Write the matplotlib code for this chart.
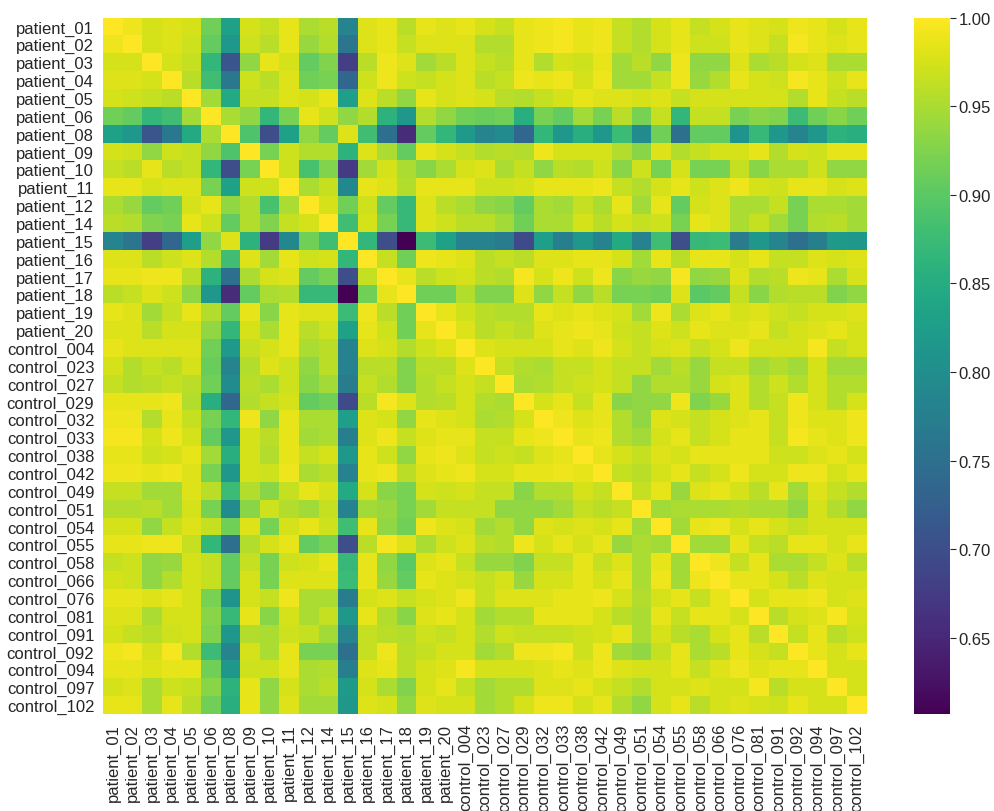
import numpy as np
import matplotlib
matplotlib.use("Agg")
import matplotlib.pyplot as plt

plt.rcParams['font.family'] = ['Liberation Sans', 'DejaVu Sans']

labels = ["patient_01", "patient_02", "patient_03", "patient_04", "patient_05",
          "patient_06", "patient_08", "patient_09", "patient_10", "patient_11",
          "patient_12", "patient_14", "patient_15", "patient_16", "patient_17",
          "patient_18", "patient_19", "patient_20",
          "control_004", "control_023", "control_027", "control_029", "control_032",
          "control_033", "control_038", "control_042", "control_049", "control_051",
          "control_054", "control_055", "control_058", "control_066", "control_076",
          "control_081", "control_091", "control_092", "control_094", "control_097",
          "control_102"]

# lower triangle of the correlation matrix (row i, columns 0..i-1)
L = [
    [],
    [0.99],
    [0.975, 0.975],
    [0.98, 0.98, 0.975],
    [0.975, 0.97, 0.965, 0.96],
    [0.915, 0.905, 0.865, 0.88, 0.945],
    [0.83, 0.815, 0.71, 0.765, 0.845, 0.95],
    [0.975, 0.97, 0.935, 0.97, 0.965, 0.935, 0.89],
    [0.965, 0.96, 0.985, 0.96, 0.965, 0.865, 0.70, 0.92],
    [0.985, 0.985, 0.975, 0.98, 0.98, 0.92, 0.83, 0.97, 0.97],
    [0.95, 0.94, 0.905, 0.915, 0.975, 0.985, 0.935, 0.955, 0.885, 0.95],
    [0.96, 0.955, 0.925, 0.92, 0.985, 0.97, 0.905, 0.955, 0.925, 0.965, 0.975],
    [0.785, 0.76, 0.68, 0.735, 0.825, 0.935, 0.98, 0.86, 0.675, 0.79, 0.915, 0.88],
    [0.98, 0.98, 0.96, 0.97, 0.98, 0.955, 0.88, 0.98, 0.945, 0.985, 0.97, 0.975, 0.865],
    [0.985, 0.985, 0.99, 0.99, 0.96, 0.86, 0.75, 0.95, 0.975, 0.98, 0.905, 0.92, 0.70, 0.965],
    [0.96, 0.965, 0.98, 0.97, 0.935, 0.815, 0.655, 0.905, 0.95, 0.955, 0.87, 0.87, 0.607, 0.915, 0.985],
    [0.985, 0.98, 0.945, 0.965, 0.985, 0.955, 0.905, 0.985, 0.93, 0.985, 0.98, 0.98, 0.875, 0.99, 0.96, 0.915],
    [0.98, 0.98, 0.96, 0.975, 0.975, 0.935, 0.865, 0.975, 0.95, 0.985, 0.96, 0.97, 0.83, 0.985, 0.97, 0.915, 0.985],
    [0.985, 0.98, 0.98, 0.98, 0.98, 0.915, 0.82, 0.965, 0.975, 0.985, 0.95, 0.96, 0.78, 0.98, 0.975, 0.955, 0.97, 0.98],
    [0.975, 0.955, 0.965, 0.96, 0.975, 0.91, 0.785, 0.955, 0.98, 0.97, 0.935, 0.96, 0.78, 0.96, 0.96, 0.925, 0.96, 0.96, 0.98],
    [0.965, 0.955, 0.96, 0.965, 0.96, 0.915, 0.795, 0.96, 0.95, 0.97, 0.93, 0.945, 0.77, 0.965, 0.955, 0.925, 0.955, 0.965, 0.975, 0.965],
    [0.985, 0.985, 0.985, 0.99, 0.955, 0.855, 0.735, 0.955, 0.965, 0.975, 0.905, 0.915, 0.695, 0.96, 0.995, 0.98, 0.955, 0.96, 0.975, 0.955, 0.95],
    [0.99, 0.99, 0.955, 0.985, 0.965, 0.92, 0.865, 0.99, 0.935, 0.985, 0.95, 0.95, 0.825, 0.98, 0.975, 0.935, 0.985, 0.98, 0.975, 0.95, 0.955, 0.975],
    [0.995, 0.995, 0.975, 0.99, 0.975, 0.905, 0.815, 0.975, 0.96, 0.985, 0.945, 0.95, 0.775, 0.98, 0.99, 0.965, 0.98, 0.985, 0.985, 0.965, 0.965, 0.985, 0.99],
    [0.985, 0.985, 0.97, 0.975, 0.985, 0.945, 0.855, 0.975, 0.955, 0.985, 0.965, 0.975, 0.815, 0.985, 0.97, 0.935, 0.985, 0.99, 0.98, 0.965, 0.97, 0.965, 0.98, 0.985],
    [0.99, 0.99, 0.985, 0.99, 0.98, 0.92, 0.815, 0.975, 0.97, 0.99, 0.95, 0.96, 0.78, 0.985, 0.99, 0.96, 0.98, 0.985, 0.99, 0.975, 0.975, 0.985, 0.985, 0.99, 0.985],
    [0.965, 0.965, 0.945, 0.945, 0.98, 0.96, 0.875, 0.955, 0.93, 0.965, 0.985, 0.975, 0.845, 0.975, 0.93, 0.92, 0.975, 0.97, 0.975, 0.965, 0.965, 0.93, 0.955, 0.955, 0.975, 0.965],
    [0.955, 0.955, 0.96, 0.945, 0.975, 0.92, 0.795, 0.93, 0.97, 0.955, 0.945, 0.965, 0.78, 0.945, 0.94, 0.92, 0.945, 0.965, 0.965, 0.965, 0.935, 0.935, 0.935, 0.945, 0.965, 0.96, 0.965],
    [0.975, 0.975, 0.935, 0.965, 0.98, 0.965, 0.915, 0.98, 0.92, 0.975, 0.985, 0.97, 0.88, 0.985, 0.935, 0.915, 0.99, 0.98, 0.975, 0.945, 0.955, 0.935, 0.98, 0.975, 0.98, 0.975, 0.985, 0.945],
    [0.985, 0.985, 0.99, 0.99, 0.965, 0.865, 0.75, 0.955, 0.975, 0.985, 0.905, 0.92, 0.70, 0.96, 0.995, 0.98, 0.95, 0.97, 0.98, 0.96, 0.955, 0.99, 0.975, 0.985, 0.975, 0.985, 0.94, 0.95, 0.945],
    [0.965, 0.97, 0.935, 0.94, 0.975, 0.965, 0.905, 0.965, 0.92, 0.97, 0.975, 0.985, 0.87, 0.985, 0.935, 0.90, 0.98, 0.985, 0.965, 0.94, 0.94, 0.925, 0.965, 0.965, 0.985, 0.965, 0.98, 0.95, 0.985, 0.945],
    [0.975, 0.97, 0.935, 0.955, 0.975, 0.965, 0.905, 0.975, 0.92, 0.98, 0.98, 0.98, 0.875, 0.985, 0.94, 0.905, 0.985, 0.98, 0.975, 0.965, 0.975, 0.94, 0.975, 0.975, 0.985, 0.975, 0.985, 0.95, 0.99, 0.945, 0.99],
    [0.985, 0.985, 0.98, 0.985, 0.975, 0.92, 0.81, 0.975, 0.965, 0.99, 0.95, 0.95, 0.77, 0.975, 0.98, 0.965, 0.975, 0.98, 0.99, 0.965, 0.98, 0.98, 0.98, 0.985, 0.985, 0.99, 0.975, 0.955, 0.975, 0.985, 0.965, 0.985],
    [0.98, 0.98, 0.95, 0.975, 0.975, 0.93, 0.87, 0.985, 0.93, 0.975, 0.95, 0.965, 0.815, 0.985, 0.955, 0.93, 0.98, 0.985, 0.975, 0.945, 0.955, 0.955, 0.985, 0.985, 0.985, 0.975, 0.96, 0.95, 0.985, 0.965, 0.985, 0.985, 0.975],
    [0.975, 0.965, 0.96, 0.97, 0.975, 0.925, 0.815, 0.955, 0.95, 0.97, 0.965, 0.945, 0.785, 0.965, 0.96, 0.955, 0.97, 0.965, 0.975, 0.955, 0.97, 0.965, 0.965, 0.965, 0.97, 0.975, 0.985, 0.95, 0.975, 0.96, 0.95, 0.975, 0.985, 0.96],
    [0.99, 0.995, 0.975, 0.995, 0.955, 0.875, 0.785, 0.975, 0.95, 0.985, 0.92, 0.92, 0.75, 0.965, 0.99, 0.96, 0.965, 0.975, 0.975, 0.945, 0.955, 0.99, 0.99, 0.995, 0.97, 0.99, 0.945, 0.935, 0.965, 0.985, 0.95, 0.96, 0.985, 0.975, 0.965],
    [0.985, 0.985, 0.98, 0.985, 0.985, 0.915, 0.815, 0.97, 0.97, 0.985, 0.95, 0.955, 0.775, 0.98, 0.985, 0.96, 0.975, 0.98, 0.995, 0.975, 0.975, 0.975, 0.98, 0.985, 0.98, 0.99, 0.98, 0.975, 0.975, 0.985, 0.965, 0.98, 0.99, 0.98, 0.985, 0.985],
    [0.975, 0.98, 0.95, 0.97, 0.965, 0.93, 0.86, 0.985, 0.935, 0.975, 0.95, 0.96, 0.82, 0.975, 0.95, 0.925, 0.975, 0.985, 0.965, 0.945, 0.955, 0.955, 0.98, 0.98, 0.985, 0.975, 0.965, 0.955, 0.975, 0.975, 0.98, 0.975, 0.975, 0.995, 0.96, 0.975, 0.975],
    [0.985, 0.985, 0.95, 0.985, 0.96, 0.915, 0.855, 0.985, 0.935, 0.98, 0.945, 0.945, 0.815, 0.98, 0.975, 0.935, 0.98, 0.975, 0.975, 0.945, 0.955, 0.975, 0.99, 0.99, 0.975, 0.985, 0.955, 0.935, 0.975, 0.985, 0.96, 0.975, 0.98, 0.975, 0.97, 0.985, 0.975, 0.975],
]
cbar_ticks = [0.65, 0.70, 0.75, 0.80, 0.85, 0.90, 0.95, 1.00]

n = len(labels)
M = np.eye(n)
for i in range(n):
    M[i, :i] = L[i]
    M[:i, i] = L[i]

W, H = 995, 812
fig = plt.figure(figsize=(W / 100, H / 100), dpi=100)
x0, x1 = 103.3, 866.6
y0, y1 = 18.5, 715.0
ax = fig.add_axes([x0 / W, 1 - y1 / H, (x1 - x0) / W, (y1 - y0) / H])
cax = fig.add_axes([914.3 / W, 1 - y1 / H, 35.7 / W, (y1 - y0) / H])

mesh = ax.pcolormesh(np.arange(n + 1), np.arange(n + 1), M, cmap='viridis',
                     vmin=M.min(), vmax=M.max())
ax.set_xlim(0, n)
ax.set_ylim(n, 0)
for s in ax.spines.values():
    s.set_visible(False)
ax.set_xticks(np.arange(n) + 0.5)
ax.set_yticks(np.arange(n) + 0.5)
ax.set_xticklabels(labels, rotation=90, fontsize=12, color='#262626')
ax.set_yticklabels(labels, fontsize=12, color='#262626')
ax.tick_params(axis='both', length=0, pad=6.5)

cb = fig.colorbar(mesh, cax=cax)
cb.set_ticks(cbar_ticks)
cb.ax.set_yticklabels([f"{t:.2f}" for t in cbar_ticks], fontsize=12, color='#262626')
cb.ax.tick_params(length=4, width=0.8, color='#262626', pad=2)
cb.outline.set_visible(False)

fig.savefig("out.png", dpi=100)
